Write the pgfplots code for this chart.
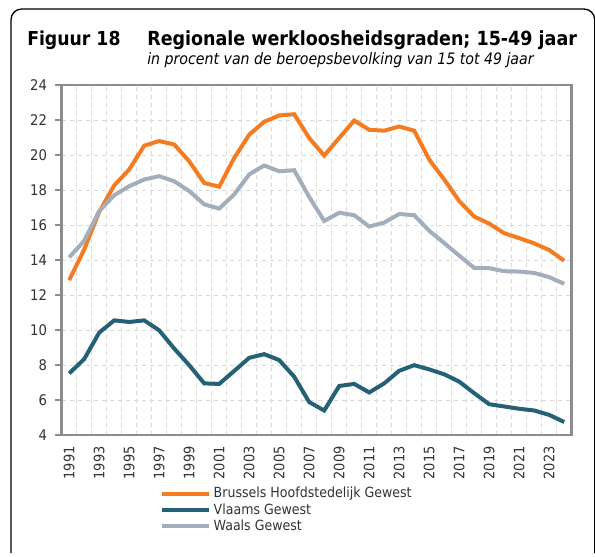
\documentclass[border=0pt]{standalone}
\usepackage{pgfplots}
\pgfplotsset{compat=1.18}
\usepackage{fontspec}
\setmainfont{DejaVu Sans Condensed}
\definecolor{bru}{RGB}{244,123,32}
\definecolor{vla}{RGB}{36,96,118}
\definecolor{waa}{RGB}{162,174,188}
\definecolor{axgray}{RGB}{140,140,140}
\definecolor{gridgray}{RGB}{217,217,217}
\definecolor{txt}{RGB}{50,50,50}
\begin{document}
\begin{tikzpicture}
\useasboundingbox (0,0) rectangle (446.25pt,-417pt);
\draw[line width=1pt, rounded corners=8pt] (8.25pt,-414.75pt) -- (8.25pt,-6.75pt) -- (446pt,-6.75pt) -- (446pt,-414.75pt);
\node[anchor=base west, inner sep=0pt, font=\bfseries\fontsize{14.4}{16}\selectfont] at (20.25pt,-34.5pt) {Figuur 18};
\node[anchor=base west, inner sep=0pt, font=\bfseries\fontsize{14.6}{16}\selectfont] at (110.25pt,-34.5pt) {Regionale werkloosheidsgraden; 15-49 jaar};
\node[anchor=base west, inner sep=0pt, font=\itshape\fontsize{11.8}{13}\selectfont] at (110.25pt,-48.5pt) {in procent van de beroepsbevolking van 15 tot 49 jaar};
\begin{axis}[
  at={(46.275pt,-326.25pt)}, anchor=south west,
  scale only axis, width=382.5pt, height=262.5pt,
  xmin=1990.5, xmax=2024.5, ymin=4, ymax=24,
  xtick={1991,1993,...,2023},
  minor xtick={1991.5,1992.5,...,2023.5},
  ytick={4,6,...,24},
  xmajorgrids=false, xminorgrids=true, ymajorgrids=true,
  grid style={gridgray, dashed, line width=0.6pt},
  minor grid style={gridgray, dashed, line width=0.6pt},
  axis line style={axgray, line width=2.2pt},
  x tick style={draw=none}, minor x tick style={draw=none},
  y tick style={axgray, line width=1.5pt},
  ytick pos=left, tick align=outside, major tick length=5pt,
  /pgf/number format/assume math mode=true,
  xticklabel style={rotate=90, anchor=east, /pgf/number format/1000 sep={}, font=\fontsize{10.8}{12}\selectfont, text=txt},
  yticklabel style={font=\fontsize{11}{12}\selectfont, text=txt, xshift=-2.5pt},
  legend style={at={(0.193,-0.141)}, anchor=north west, draw=none, fill=none,
    font=\fontsize{10.5}{12.75}\selectfont, text=txt, row sep=-1.2pt, inner sep=0pt},
  legend cell align=left,
  legend image code/.code={\draw[#1, line width=3pt] (0pt,0pt) -- (35pt,0pt);},
]
\addplot[bru, line width=3pt] coordinates {
(1991,12.85) (1992,14.6) (1993,16.75) (1994,18.26) (1995,19.17) (1996,20.53) (1997,20.8) (1998,20.6) (1999,19.64) (2000,18.4) (2001,18.19) (2002,19.83) (2003,21.16) (2004,21.9) (2005,22.26) (2006,22.33) (2007,20.97) (2008,19.97) (2009,20.97) (2010,21.97) (2011,21.44) (2012,21.39) (2013,21.63) (2014,21.39) (2015,19.74) (2016,18.6) (2017,17.37) (2018,16.48) (2019,16.08) (2020,15.53) (2021,15.25) (2022,14.95) (2023,14.57) (2024,13.96)};
\addlegendentry{Brussels Hoofdstedelijk Gewest}
\addplot[vla, line width=3pt] coordinates {
(1991,7.52) (1992,8.34) (1993,9.85) (1994,10.55) (1995,10.46) (1996,10.55) (1997,9.98) (1998,8.94) (1999,7.99) (2000,6.95) (2001,6.92) (2002,7.66) (2003,8.41) (2004,8.62) (2005,8.28) (2006,7.33) (2007,5.88) (2008,5.40) (2009,6.80) (2010,6.92) (2011,6.43) (2012,6.95) (2013,7.67) (2014,7.99) (2015,7.75) (2016,7.47) (2017,7.05) (2018,6.39) (2019,5.76) (2020,5.63) (2021,5.5) (2022,5.40) (2023,5.15) (2024,4.74)};
\addlegendentry{Vlaams Gewest}
\addplot[waa, line width=3pt] coordinates {
(1991,14.15) (1992,15.1) (1993,16.8) (1994,17.7) (1995,18.22) (1996,18.6) (1997,18.79) (1998,18.5) (1999,17.94) (2000,17.18) (2001,16.94) (2002,17.75) (2003,18.89) (2004,19.4) (2005,19.07) (2006,19.13) (2007,17.6) (2008,16.23) (2009,16.7) (2010,16.56) (2011,15.91) (2012,16.14) (2013,16.63) (2014,16.56) (2015,15.67) (2016,14.97) (2017,14.25) (2018,13.55) (2019,13.53) (2020,13.36) (2021,13.34) (2022,13.26) (2023,13.02) (2024,12.64)};
\addlegendentry{Waals Gewest}
\end{axis}
\end{tikzpicture}
\end{document}
